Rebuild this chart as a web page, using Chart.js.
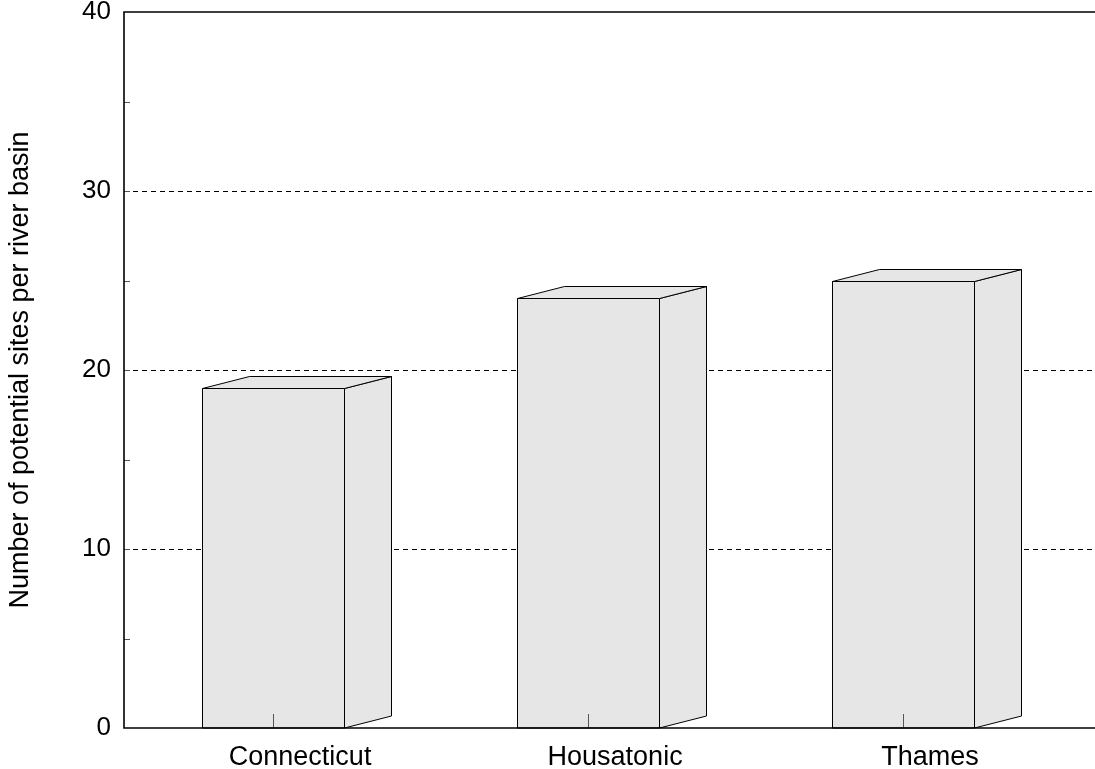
<!DOCTYPE html>
<html>
  <head>
    <title>Potential sites per river basin</title>
    <script src="https://cdn.jsdelivr.net/npm/chart.js"></script>
    <style>
      body { margin: 0; background: #fff; }
      #wrap { width: 1095px; height: 769px; }
    </style>
  </head>
  <body>
    <div id="wrap"><canvas id="grafico"></canvas></div>
    <script>
      // dados
      const basins = ["Connecticut", "Housatonic", "Thames"];
      const sites = [19, 24, 25];
      const yTicks = [0, 10, 20, 30, 40];
      const gridValues = [10, 20, 30];
      const minorTicks = [5, 10, 15, 20, 25, 30, 35];

      const depthX = 47, depthY = 12;
      const labelShift = 0.086; // rotulos deslocados para a direita, como no original
      const faceColor = "#e6e6e6";

      // barras em 3D desenhadas sobre os elementos do Chart.js
      const caixas = {
        id: "caixas",
        afterDatasetsDraw(chart) {
          const c = chart.ctx;
          const meta = chart.getDatasetMeta(0);
          c.save();
          c.lineWidth = 1;
          c.strokeStyle = "#000";
          c.fillStyle = faceColor;
          meta.data.forEach(bar => {
            const p = bar.getProps(["x", "y", "base", "width"], true);
            const l = Math.round(p.x - p.width / 2) + 0.5;
            const r = Math.round(p.x + p.width / 2) + 0.5;
            const t = Math.round(p.y) + 0.5;
            const b = Math.round(p.base);
            // frente
            c.beginPath();
            c.rect(l, t, r - l, b - t);
            c.fill(); c.stroke();
            // lado
            c.beginPath();
            c.moveTo(r, b); c.lineTo(r + depthX, b - depthY);
            c.lineTo(r + depthX, t - depthY); c.lineTo(r, t);
            c.closePath(); c.fill(); c.stroke();
            // topo
            c.beginPath();
            c.moveTo(l, t); c.lineTo(l + depthX, t - depthY);
            c.lineTo(r + depthX, t - depthY); c.lineTo(r, t);
            c.closePath(); c.fill(); c.stroke();
          });
          c.restore();
        }
      };

      // fundo: linhas tracejadas, eixos e marcas
      const eixos = {
        id: "eixos",
        beforeDatasetsDraw(chart) {
          const c = chart.ctx, a = chart.chartArea, y = chart.scales.y;
          c.save();
          c.strokeStyle = "#000";
          c.lineWidth = 1;
          c.setLineDash([5, 4]);
          gridValues.forEach(v => {
            const py = Math.round(y.getPixelForValue(v)) + 0.5;
            c.beginPath(); c.moveTo(a.left, py); c.lineTo(a.right, py); c.stroke();
          });
          c.setLineDash([]);
          c.strokeStyle = "#555";
          minorTicks.forEach(v => {
            const py = Math.round(y.getPixelForValue(v)) + 0.5;
            c.beginPath(); c.moveTo(a.left, py); c.lineTo(a.left + 6, py); c.stroke();
          });
          c.restore();
        },
        afterDatasetsDraw(chart) {
          const c = chart.ctx, a = chart.chartArea, x = chart.scales.x;
          c.save();
          c.strokeStyle = "#555";
          c.lineWidth = 1;
          basins.forEach((b, i) => {
            const px = Math.round(x.getPixelForValue(i)) + 0.5;
            c.beginPath(); c.moveTo(px, a.bottom); c.lineTo(px, a.bottom - 14); c.stroke();
          });
          c.strokeStyle = "#000";
          c.lineWidth = 1.6;
          c.beginPath();
          c.moveTo(a.right, a.top); c.lineTo(a.left, a.top);
          c.lineTo(a.left, a.bottom); c.lineTo(a.right, a.bottom);
          c.stroke();
          c.restore();
        }
      };

      const ctx = document.getElementById("grafico").getContext("2d");
      const grafico = new Chart(ctx, {
        type: "bar",
        data: {
          datasets: [{
            label: "Sites",
            data: sites.map((v, i) => ({ x: i, y: v })),
            backgroundColor: "rgba(0,0,0,0)",
            borderWidth: 0,
            barThickness: 142
          }]
        },
        plugins: [caixas, eixos],
        options: {
          responsive: true,
          maintainAspectRatio: false,
          animation: false,
          layout: { padding: { top: 12, right: 0, left: 0, bottom: 0 } },
          plugins: {
            legend: { display: false },
            tooltip: { enabled: false }
          },
          scales: {
            x: {
              type: "linear",
              offset: false,
              min: -0.473,
              max: 2.6095,
              grid: { display: false, drawTicks: false, offset: false },
              border: { display: false },
              afterFit: s => { s.height = 41; s.paddingLeft = 0; s.paddingRight = 0; },
              afterBuildTicks: s => { s.ticks = basins.map((b, i) => ({ value: i + labelShift })); },
              ticks: {
                includeBounds: false,
                padding: 13,
                color: "#000",
                font: { family: "Liberation Sans", size: 27 },
                callback: v => basins[Math.round(v)]
              }
            },
            y: {
              min: 0,
              max: 40,
              grid: { display: false, drawTicks: false },
              border: { display: false },
              afterFit: s => { s.width = 124; s.paddingTop = 0; s.paddingBottom = 0; },
              afterBuildTicks: s => { s.ticks = yTicks.map(v => ({ value: v })); },
              ticks: {
                padding: 13,
                color: "#000",
                font: { family: "Liberation Sans", size: 26 }
              },
              title: {
                display: true,
                text: "Number of potential sites per river basin",
                color: "#000",
                font: { family: "Liberation Sans", size: 27 },
                padding: { top: 4, bottom: 0 }
              }
            }
          }
        }
      });
    </script>
  </body>
</html>
